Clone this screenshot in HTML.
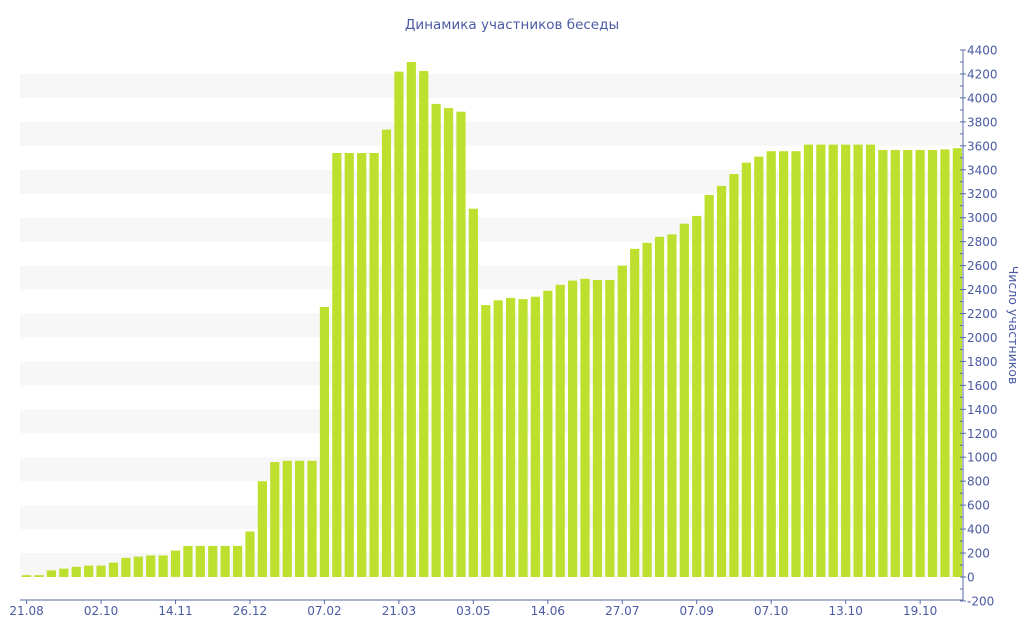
<!DOCTYPE html>
<html><head><meta charset="utf-8"><style>
html,body{margin:0;padding:0;background:#fff;width:1024px;height:640px;overflow:hidden}
svg text{font-family:"DejaVu Sans","Liberation Sans",sans-serif;fill:#4a5ba3}
</style></head><body>
<svg id="c" width="1024" height="640" xmlns="http://www.w3.org/2000/svg"></svg>
<script>
const v=[15,15,55,70,85,95,95,120,160,170,180,180,220,260,260,260,260,260,380,800,960,970,970,970,2255,3540,3540,3540,3540,3735,4220,4300,4225,3950,3915,3885,3075,2270,2310,2330,2320,2340,2390,2440,2475,2490,2480,2480,2600,2740,2790,2840,2860,2950,3015,3190,3265,3365,3460,3510,3555,3555,3555,3610,3610,3610,3610,3610,3610,3565,3565,3565,3565,3565,3570,3580];
const y0=577,k=527/4400,Y=u=>y0-u*k;
let s='';
for(let u=0;u<4400;u+=400){s+=`<rect x="20" y="${Y(u+200)}" width="942" height="${200*k}" fill="#f7f7f7"/>`;}
v.forEach((u,i)=>{const x=22+12.41*i;s+=`<rect x="${x.toFixed(2)}" y="${Y(u).toFixed(1)}" width="9.2" height="${(u*k).toFixed(1)}" fill="#bde02e"/>`;});
s+=`<line x1="963" y1="50" x2="963" y2="600" stroke="#5a6aaa"/>`;
for(let u=-200;u<=4400;u+=100){const y=Y(u);s+=`<line x1="960" y1="${y}" x2="${u%200?963:966}" y2="${y}" stroke="#5a6aaa"/>`;if(u%200===0)s+=`<text x="967" y="${y+4.5}" font-size="12">${u}</text>`;}
s+=`<line x1="20" y1="600" x2="963" y2="600" stroke="#5a6aaa"/>`;
const L=['21.08','02.10','14.11','26.12','07.02','21.03','03.05','14.06','27.07','07.09','07.10','13.10','19.10'];
L.forEach((t,i)=>{const x=26.6+74.46*i;s+=`<line x1="${x}" y1="600" x2="${x}" y2="604" stroke="#5a6aaa"/><text x="${x}" y="615" font-size="12" text-anchor="middle">${t}</text>`;});
s+=`<text x="512" y="29" font-size="13.5" text-anchor="middle">Динамика участников беседы</text>`;
s+=`<text transform="translate(1009,325) rotate(90)" font-size="12.5" text-anchor="middle">Число участников</text>`;
document.getElementById('c').innerHTML=s;
</script>
</body></html>
